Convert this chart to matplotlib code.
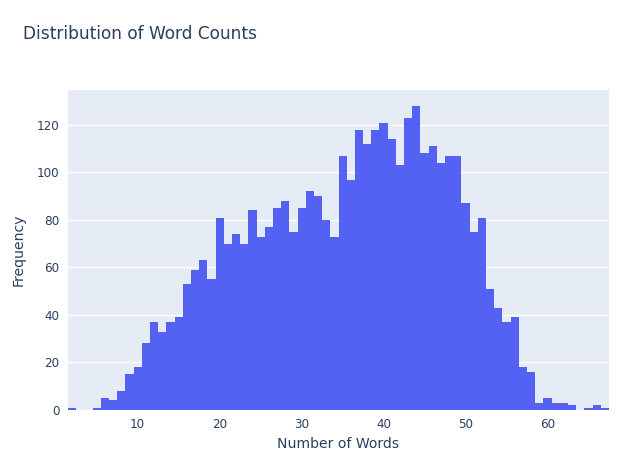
import matplotlib
matplotlib.use("Agg")
import matplotlib.pyplot as plt

word_counts = list(range(2, 68))
frequencies = [
    1, 0, 0, 1, 5, 4, 8, 15, 18, 28,      # 2-11
    37, 33, 37, 39, 53, 59, 63, 55, 81, 70,  # 12-21
    74, 70, 84, 73, 77, 85, 88, 75, 85, 92,  # 22-31
    90, 80, 73, 107, 97, 118, 112, 118, 121, 114,  # 32-41
    103, 123, 128, 108, 111, 104, 107, 107, 87, 75,  # 42-51
    81, 51, 43, 37, 39, 18, 16, 3, 5, 3,  # 52-61
    3, 2, 0, 1, 2, 1,  # 62-67
]
x_ticks = [10, 20, 30, 40, 50, 60]
y_ticks = [0, 20, 40, 60, 80, 100, 120]

title = "Distribution of Word Counts"
x_label = "Number of Words"
y_label = "Frequency"

W, H = 619, 467
fig = plt.figure(figsize=(W / 100, H / 100), dpi=100)
fig.patch.set_facecolor("white")
ax = fig.add_axes([68 / W, 1 - 410 / H, (609 - 68) / W, (410 - 90) / H])
ax.set_facecolor("#E5ECF6")

text_color = "#2a3f5f"
px = 72 / 100

ax.bar(word_counts, frequencies, width=1.0, color="#5462F3", linewidth=0, zorder=3)

ax.set_xlim(1.5, 67.5)
ax.set_ylim(0, 134.7)
ax.set_xticks(x_ticks)
ax.set_yticks(y_ticks)
ax.grid(True, axis="y", color="white", linewidth=1.0, zorder=1)
ax.grid(False, axis="x")
ax.set_axisbelow(True)
for s in ax.spines.values():
    s.set_visible(False)
ax.tick_params(axis="both", length=0, labelsize=12 * px, colors=text_color)
ax.tick_params(axis="x", pad=6)
ax.tick_params(axis="y", pad=6)

ax.set_xlabel(x_label, fontsize=14 * px, color=text_color, labelpad=4)
ax.set_ylabel(y_label, fontsize=14 * px, color=text_color, labelpad=8)

fig.text(23 / W, 1 - 34 / H, title, fontsize=17 * px, color=text_color,
         ha="left", va="center")

fig.savefig("out.png", dpi=100)
